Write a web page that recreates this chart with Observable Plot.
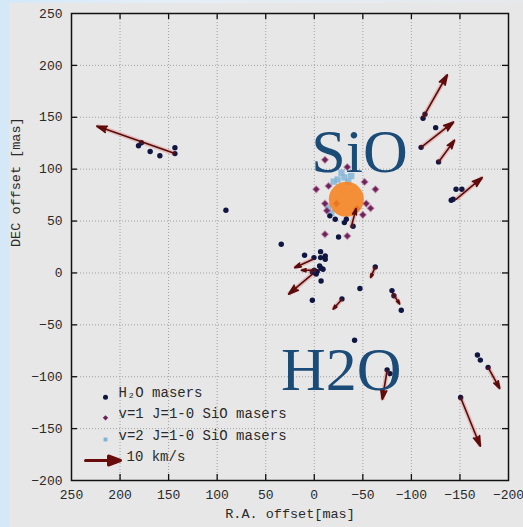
<!DOCTYPE html>
<html><head><meta charset="utf-8">
<script src="https://cdn.jsdelivr.net/npm/d3@7"></script>
<script src="https://cdn.jsdelivr.net/npm/@observablehq/plot@0.6"></script>
<style>
html,body{margin:0;padding:0;}
body{width:523px;height:527px;background:linear-gradient(90deg,#d4e8f8,#e4eef7 30%,#e6e9ec);overflow:hidden;position:relative;}
#chart{position:absolute;left:9px;top:3px;}
</style></head><body><div id="chart"></div>
<script>
// ---- data ----
const xTicks = [250, 200, 150, 100, 50, 0, -50, -100, -150, -200];
const yTicks = [250, 200, 150, 100, 50, 0, -50, -100, -150, -200];

// H2O masers
const h2oX = [181, 178, 169, 159, 143.5, 143.5, 91,
  -112, -114, -125, -110, -128, -141, -143, -146, -152,
  -21.6, -31, -33, -40, -25, -16, 34,
  10, 0.3, -6.5, -6.5, -11.3, -11.3, -5.5, 0, -3, 0, -7, -9, -7, 2, -2, 2,
  -28.5, -62.8, -47, -80, -82, -89.6, -41.5,
  -75, -78, -168, -171, -179, -150.7];
const h2oY = [122.6, 125.5, 117, 113, 120.7, 115, 60.4,
  149, 153, 140, 121, 107, 70, 71, 80.6, 80.6,
  51.7, 48.5, 51.7, 45, 34.7, 55, 27.6,
  17, 14.8, 20.5, 14.8, 16.4, 13.2, 6.7, 2.6, 1.3, 0.3, 4.5, 3.5, -7.7, -26.3, -1, 1,
  -25, 5.8, -15, -17, -22, -36, -64.8,
  -93.4, -97, -79, -84, -91, -120];

// v=1 J=1-0 SiO masers
const sio1X = [-11, -34, -2, -14.7, -51.8, -63, -11, -22.7, -53.5, -58, -50, -44, -11, -34, -13];
const sio1Y = [109, 102, 80.6, 83.8, 87.7, 80.6, 66.8, 66.8, 66.8, 62.3, 56, 62, 37.3, 35.6, 60];

// v=2 J=1-0 SiO masers
const sio2X = [-28, -38, -24, -31, -17.5, -14, -35, -20];
const sio2Y = [96.6, 93.4, 90, 92, 58, 63, 88, 88];

// proper-motion vectors (start -> end)
const arrX1 = [143.5, -112, -110, -128, -146, -38, 1.3, -2, 1.3, -62.8, -28.5, -81, -75, -179, -150.7];
const arrY1 = [115, 150, 121, 107, 71, 44, 13.2, 2.6, -0.7, 5.8, -25.3, -20, -94, -91, -120];
const arrX2 = [224, -137, -143.5, -144.5, -173, -43, 20.3, 13.4, 26.5, -58, -19.3, -88, -70, -191, -171];
const arrY2 = [141.6, 191, 145.5, 128, 92, 62, 5.1, 2.6, -20.5, -4.5, -35, -30, -122, -111.5, -167];

// star (SiO shell centre)
const starX = [-33];
const starY = [71];

const annotations = ["SiO", "H2O"];
const annotX = [3, 34.3];
const annotY = [97, -113];

const legendLabels = ["H\u2082O masers", "v=1 J=1-0 SiO masers", "v=2 J=1-0 SiO masers", "10 km/s"];

// ---- tables ----
const h2o = h2oX.map((x, i) => ({x, y: h2oY[i]}));
const sio1 = sio1X.map((x, i) => ({x, y: sio1Y[i]}));
const sio2 = sio2X.map((x, i) => ({x, y: sio2Y[i]}));
const arrows = arrX1.map((x1, i) => ({x1, y1: arrY1[i], x2: arrX2[i], y2: arrY2[i]}));
const star = starX.map((x, i) => ({x, y: starY[i]}));
const annot = annotations.map((t, i) => ({t, x: annotX[i], y: annotY[i]}));

const W = 514, H = 524, ML = 62, MR = 15, MT = 10, MB = 47;
const IW = W - ML - MR, IH = H - MT - MB;

const NAVY = "#0f1642", PURPLE = "#6a2358", LBLUE = "#7fb3d7", ARROW = "#5a0b0b", GLOW = "#d23a32";
const TEXTC = "#2a2a2a";

const interior = xTicks.slice(1, -1);
const interiorY = yTicks.slice(1, -1);

const legendArrowShape = {
  draw(context, l) {
    const h = 12, w = 4.5;
    context.moveTo(0, 0);
    context.lineTo(0, -(l - h));
    context.moveTo(-w, -(l - h));
    context.lineTo(0, -l);
    context.lineTo(w, -(l - h));
    context.closePath();
  }
};

const rows = [-83.3, -62.7, -41, -20];

const chart = Plot.plot({
  width: W, height: H,
  marginLeft: ML, marginRight: MR, marginTop: MT, marginBottom: MB,
  style: {background: "#e7e7e7", fontFamily: "'Liberation Mono', 'DejaVu Sans Mono', monospace", fontSize: "13px", color: TEXTC},
  x: {domain: [250, -200]},
  y: {domain: [-200, 250]},
  marks: [
    Plot.gridX(interior, {stroke: "#9a9a9a", strokeOpacity: 0.9, strokeDasharray: "1,2"}),
    Plot.gridY(interiorY, {stroke: "#9a9a9a", strokeOpacity: 0.9, strokeDasharray: "1,2"}),
    // inward ticks on all four sides
    Plot.tickX(interior, {x: d => d, insetTop: IH - 6, stroke: "#111", strokeWidth: 1.3}),
    Plot.tickX(interior, {x: d => d, insetBottom: IH - 6, stroke: "#111", strokeWidth: 1.3}),
    Plot.tickY(interiorY, {y: d => d, insetRight: IW - 6, stroke: "#111", strokeWidth: 1.3}),
    Plot.tickY(interiorY, {y: d => d, insetLeft: IW - 6, stroke: "#111", strokeWidth: 1.3}),
    Plot.axisX(xTicks, {tickSize: 0, tickPadding: 9, fill: TEXTC, label: null}),
    Plot.axisY(yTicks, {tickSize: 0, tickPadding: 9, fill: TEXTC, label: null}),
    Plot.text(["R.A. offset[mas]"], {frameAnchor: "bottom", dy: 37, fill: TEXTC, fontSize: 13.5}),
    Plot.text(["DEC offset [mas]"], {frameAnchor: "left", dx: -56, rotate: -90, fill: TEXTC, fontSize: 13.5}),
    // SiO masers
    Plot.dot(sio2, {x: "x", y: "y", symbol: "square", r: 3.6, fill: LBLUE, fillOpacity: 0.8}),
    Plot.dot(sio1, {x: "x", y: "y", symbol: "diamond2", r: 3, fill: PURPLE, stroke: "#b06090", strokeOpacity: 0.4, strokeWidth: 1.5}),
    // star
    Plot.dot(star, {x: "x", y: "y", r: 17.5, fill: "#f6821f", fillOpacity: 0.88}),
    // H2O masers
    Plot.dot(h2o, {x: "x", y: "y", r: 2.7, fill: NAVY}),
    // arrows: glow + body
    Plot.link(arrows, {x1: "x1", y1: "y1", x2: "x2", y2: "y2", stroke: GLOW, strokeOpacity: 0.25, strokeWidth: 4.5}),
    Plot.arrow(arrows, {x1: "x1", y1: "y1", x2: "x2", y2: "y2", stroke: ARROW, fill: "#7a0f0f", strokeWidth: 1.6, headLength: 10, headAngle: 36}),
    // annotations
    Plot.text(annot, {x: "x", y: "y", text: "t", textAnchor: "start", lineAnchor: "bottom", fontFamily: "'Liberation Serif', 'DejaVu Serif', serif", fontSize: 62, fill: "#1b4b77"}),
    // legend
    Plot.dot([0], {frameAnchor: "bottom-left", dx: 34, dy: rows[0], r: 2.5, fill: NAVY}),
    Plot.dot([0], {frameAnchor: "bottom-left", dx: 34, dy: rows[1], r: 2.4, symbol: "diamond2", fill: PURPLE}),
    Plot.dot([0], {frameAnchor: "bottom-left", dx: 34, dy: rows[2], r: 2.2, symbol: "square", fill: LBLUE}),
    Plot.vector([0], {frameAnchor: "bottom-left", dx: 14, dy: rows[3], length: 35, rotate: 90, anchor: "start", shape: legendArrowShape, stroke: "#6a0c0c", fill: "#6a0c0c", strokeWidth: 3}),
    ...legendLabels.map((t, i) => Plot.text([t], {frameAnchor: "bottom-left", dx: i === 3 ? 55 : 47, dy: rows[i], textAnchor: "start", fill: TEXTC, fontSize: 14})),
    Plot.frame({stroke: "#111", strokeWidth: 1.5})
  ]
});
document.getElementById("chart").appendChild(chart);
</script>
</body></html>
